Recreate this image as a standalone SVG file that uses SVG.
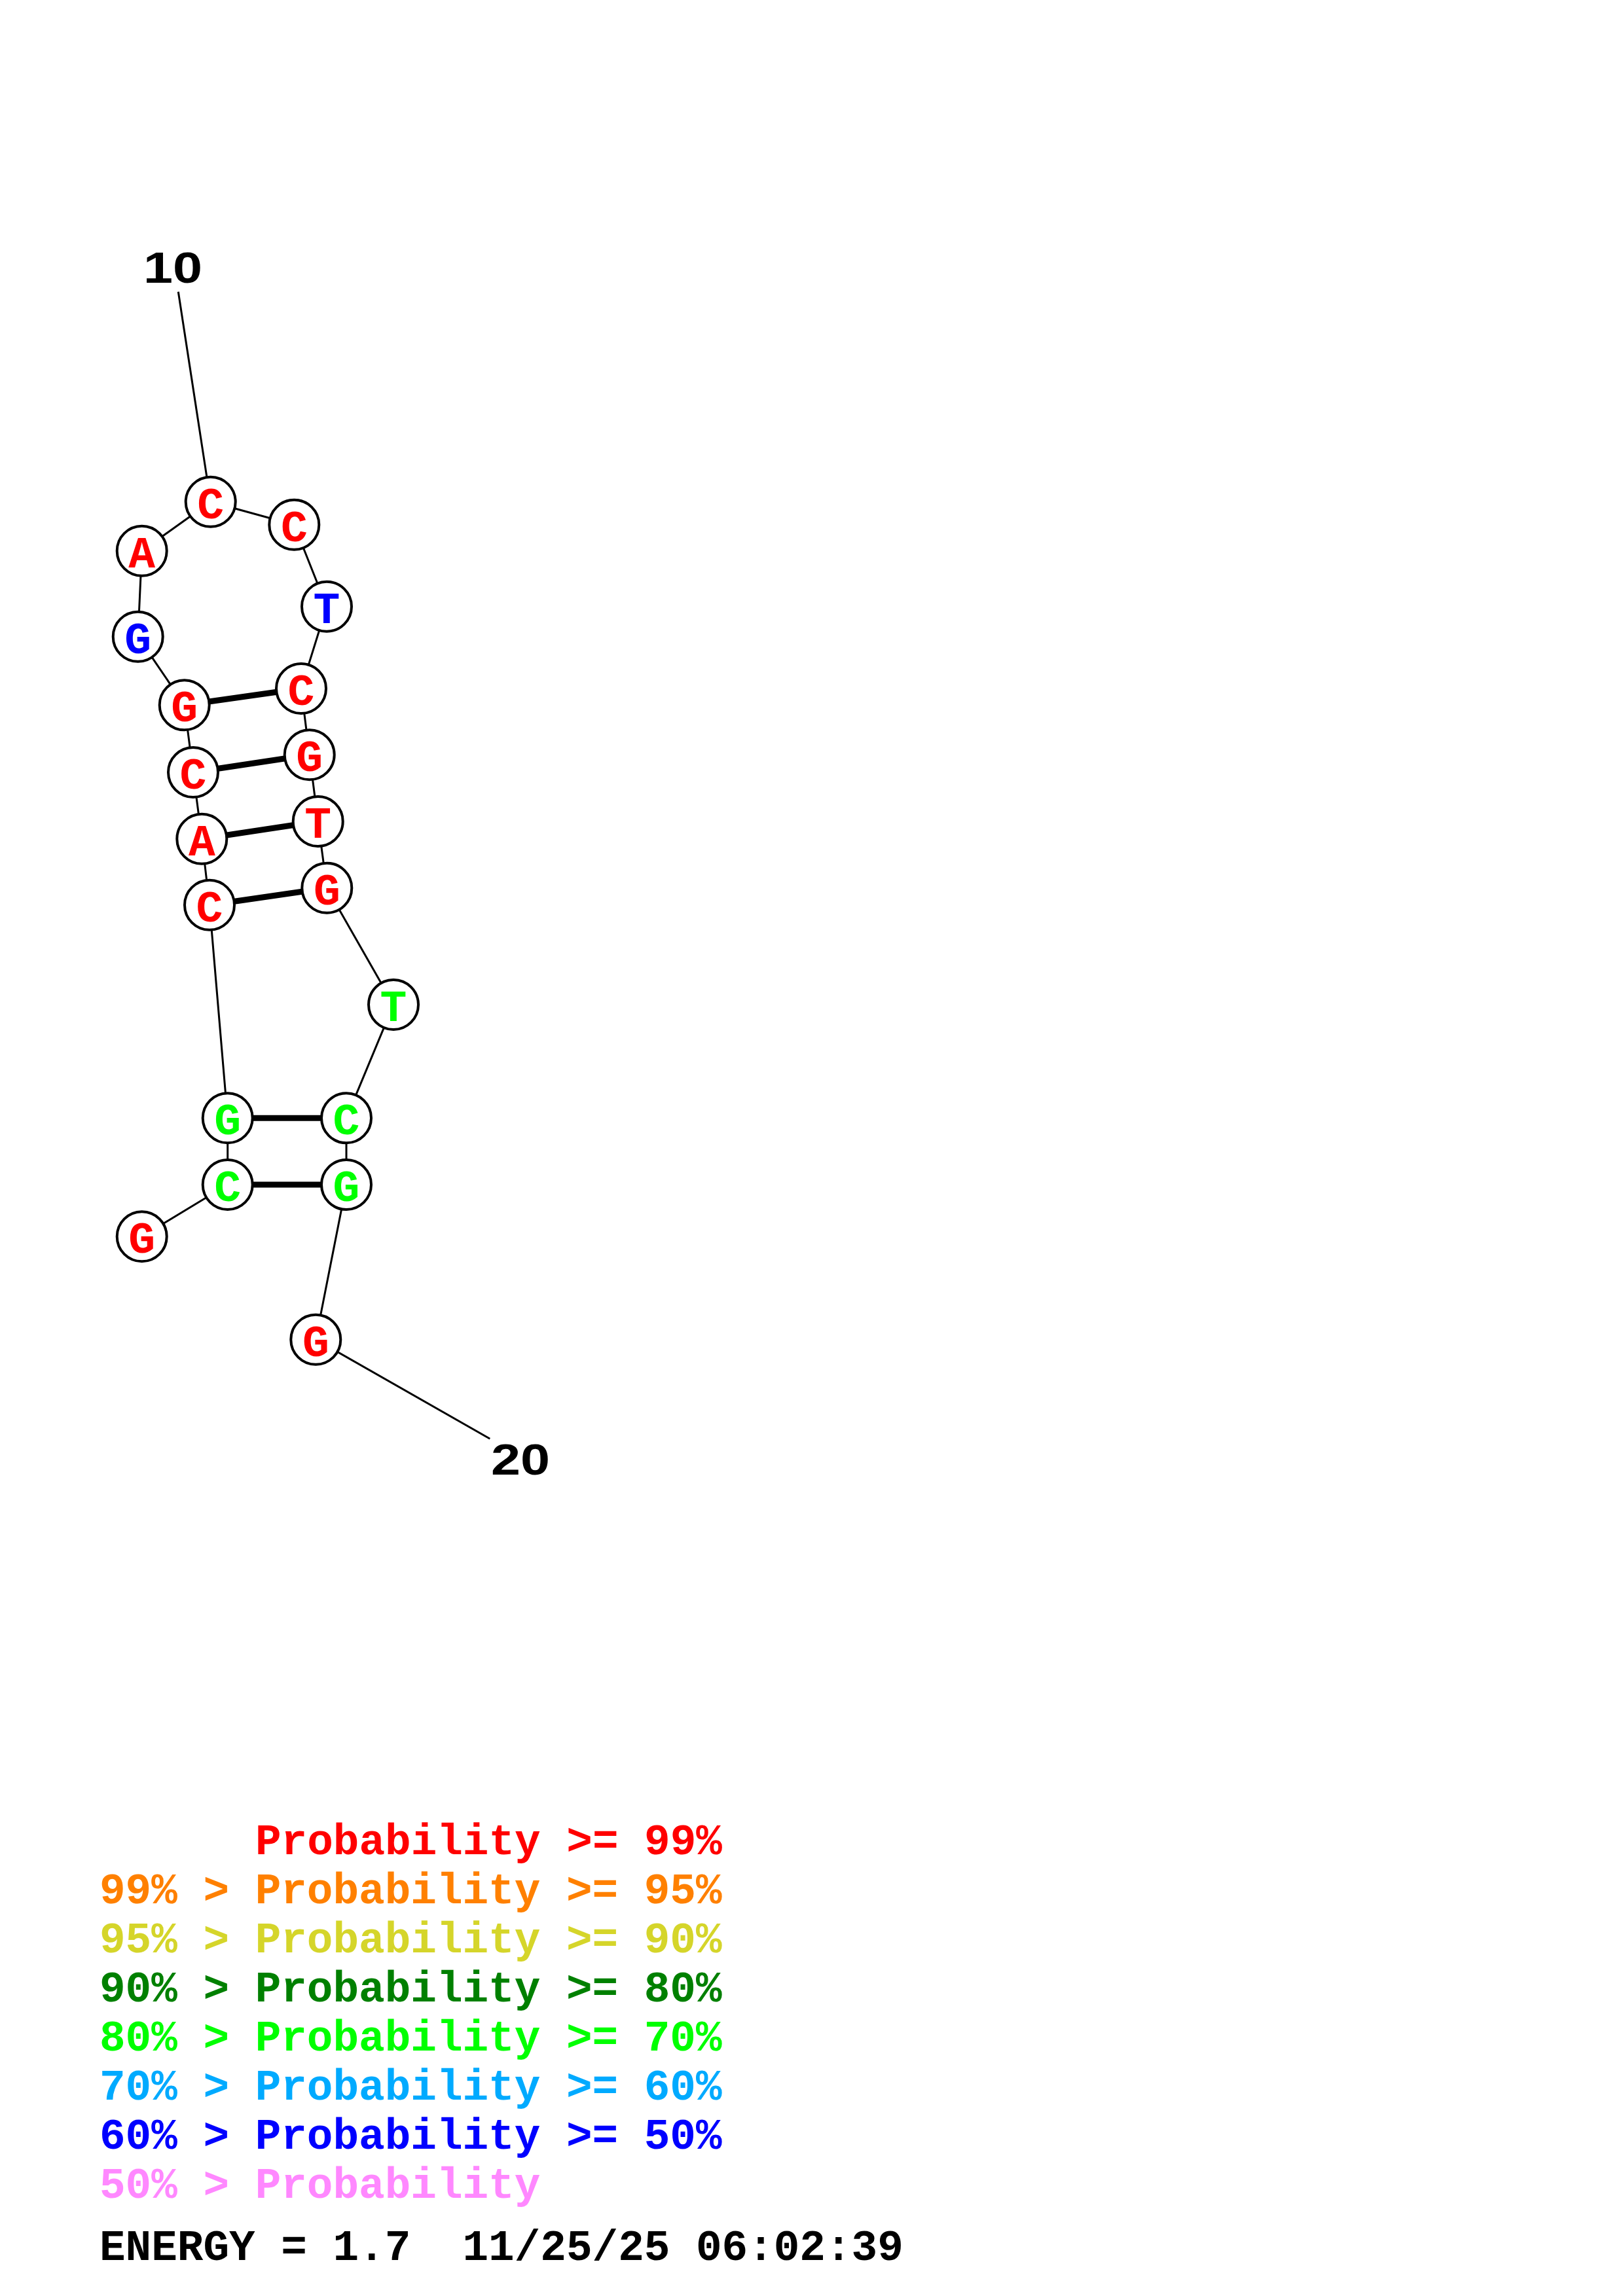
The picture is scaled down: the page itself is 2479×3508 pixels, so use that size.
<svg xmlns="http://www.w3.org/2000/svg" width="2479" height="3508" viewBox="0 0 2479 3508">
<style>
.bb{stroke:#000;stroke-width:3;fill:none}
.pr{stroke:#000;stroke-width:9;fill:none}
.nd{fill:#fff;stroke:#000;stroke-width:4}
.nt{font-family:"Liberation Mono","DejaVu Sans Mono",monospace;font-weight:bold;font-size:68px;text-anchor:middle}
.lb{font-family:"Liberation Sans",Arial,sans-serif;font-weight:bold;font-size:66px;fill:#000}
.lg{font-family:"Liberation Mono","DejaVu Sans Mono",monospace;font-weight:bold;font-size:66px}
.r{fill:#FF0000}.b{fill:#0000FF}.g{fill:#00FF00}
</style>
<rect width="2479" height="3508" fill="#fff"/>
<g id="connectors">
<line class="bb" x1="272.3" y1="445.8" x2="321.7" y2="766.7"/>
<line class="bb" x1="482.3" y1="2046.7" x2="748.3" y2="2198.3"/>
<polyline class="bb" points="216.7,1889.3 347.7,1810 347.7,1708.3 320,1382.7 308.3,1281.7 295,1180 281.7,1077.3 210.7,972.7 216.7,841.7 321.7,766.7 449.3,801.7 499,926.7 460,1052 472.7,1153.3 485.7,1255 499.3,1356.7 601,1535 529,1708.3 529,1810 482.3,2046.7"/>
<line class="pr" x1="281.7" y1="1077.3" x2="460" y2="1052"/>
<line class="pr" x1="295" y1="1180" x2="472.7" y2="1153.3"/>
<line class="pr" x1="308.3" y1="1281.7" x2="485.7" y2="1255"/>
<line class="pr" x1="320" y1="1382.7" x2="499.3" y2="1356.7"/>
<line class="pr" x1="347.7" y1="1708.3" x2="529" y2="1708.3"/>
<line class="pr" x1="347.7" y1="1810" x2="529" y2="1810"/>
</g>
<g id="n1"><circle class="nd" cx="216.7" cy="1889.3" r="38"/><text class="nt r" x="216.7" y="1914.3">G</text></g>
<g id="n2"><circle class="nd" cx="347.7" cy="1810" r="38"/><text class="nt g" x="347.7" y="1835">C</text></g>
<g id="n3"><circle class="nd" cx="347.7" cy="1708.3" r="38"/><text class="nt g" x="347.7" y="1733.3">G</text></g>
<g id="n4"><circle class="nd" cx="320" cy="1382.7" r="38"/><text class="nt r" x="320" y="1407.7">C</text></g>
<g id="n5"><circle class="nd" cx="308.3" cy="1281.7" r="38"/><text class="nt r" x="308.3" y="1306.7">A</text></g>
<g id="n6"><circle class="nd" cx="295" cy="1180" r="38"/><text class="nt r" x="295" y="1205">C</text></g>
<g id="n7"><circle class="nd" cx="281.7" cy="1077.3" r="38"/><text class="nt r" x="281.7" y="1102.3">G</text></g>
<g id="n8"><circle class="nd" cx="210.7" cy="972.7" r="38"/><text class="nt b" x="210.7" y="997.7">G</text></g>
<g id="n9"><circle class="nd" cx="216.7" cy="841.7" r="38"/><text class="nt r" x="216.7" y="866.7">A</text></g>
<g id="n10"><circle class="nd" cx="321.7" cy="766.7" r="38"/><text class="nt r" x="321.7" y="791.7">C</text></g>
<g id="n11"><circle class="nd" cx="449.3" cy="801.7" r="38"/><text class="nt r" x="449.3" y="826.7">C</text></g>
<g id="n12"><circle class="nd" cx="499" cy="926.7" r="38"/><text class="nt b" x="499" y="951.7">T</text></g>
<g id="n13"><circle class="nd" cx="460" cy="1052" r="38"/><text class="nt r" x="460" y="1077">C</text></g>
<g id="n14"><circle class="nd" cx="472.7" cy="1153.3" r="38"/><text class="nt r" x="472.7" y="1178.3">G</text></g>
<g id="n15"><circle class="nd" cx="485.7" cy="1255" r="38"/><text class="nt r" x="485.7" y="1280">T</text></g>
<g id="n16"><circle class="nd" cx="499.3" cy="1356.7" r="38"/><text class="nt r" x="499.3" y="1381.7">G</text></g>
<g id="n17"><circle class="nd" cx="601" cy="1535" r="38"/><text class="nt g" x="601" y="1560">T</text></g>
<g id="n18"><circle class="nd" cx="529" cy="1708.3" r="38"/><text class="nt g" x="529" y="1733.3">C</text></g>
<g id="n19"><circle class="nd" cx="529" cy="1810" r="38"/><text class="nt g" x="529" y="1835">G</text></g>
<g id="n20"><circle class="nd" cx="482.3" cy="2046.7" r="38"/><text class="nt r" x="482.3" y="2071.7">G</text></g>
<g id="labels">
<text class="lb" x="219" y="431.7" textLength="90" lengthAdjust="spacingAndGlyphs">10</text>
<text class="lb" x="750" y="2253.3" textLength="90" lengthAdjust="spacingAndGlyphs">20</text>
</g>
<g id="legend">
<text class="lg" x="390" y="2832.7" fill="#FF0000">Probability &gt;= 99%</text>
<text class="lg" x="152" y="2907.7" fill="#FF8000">99% &gt; Probability &gt;= 95%</text>
<text class="lg" x="152" y="2982.7" fill="#D5D52A">95% &gt; Probability &gt;= 90%</text>
<text class="lg" x="152" y="3057.7" fill="#008000">90% &gt; Probability &gt;= 80%</text>
<text class="lg" x="152" y="3132.7" fill="#00FF00">80% &gt; Probability &gt;= 70%</text>
<text class="lg" x="152" y="3207.7" fill="#00AAFF">70% &gt; Probability &gt;= 60%</text>
<text class="lg" x="152" y="3282.7" fill="#0000FF">60% &gt; Probability &gt;= 50%</text>
<text class="lg" x="152" y="3357.7" fill="#FF88FF">50% &gt; Probability</text>
<text class="lg" x="152" y="3453.3" fill="#000" xml:space="preserve">ENERGY = 1.7  11/25/25 06:02:39</text>
</g>
</svg>
